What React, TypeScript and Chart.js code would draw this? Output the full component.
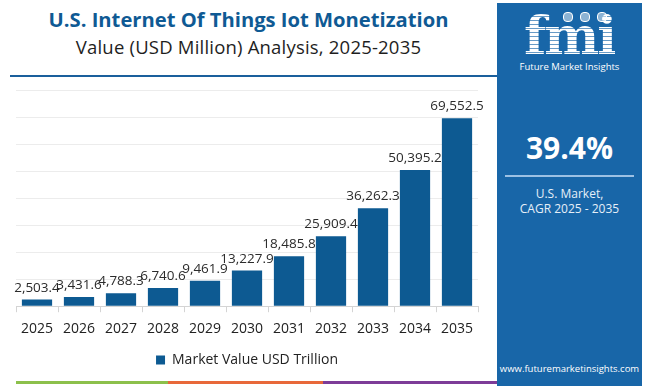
import React, { useEffect, useRef } from "react";
import { Chart, registerables } from "chart.js";

Chart.register(...registerables);

const years = ["2025", "2026", "2027", "2028", "2029", "2030", "2031", "2032", "2033", "2034", "2035"];
const marketValues = [2503.4, 3431.6, 4788.3, 6740.6, 9461.9, 13227.9, 18485.8, 25909.4, 36262.3, 50395.2, 69552.5];
const seriesLabel = "Market Value USD Trillion";
const yMax = 80000;
const yStep = 10000;

const titleLine1 = "U.S. Internet Of Things Iot Monetization";
const titleLine2 = "Value (USD Million) Analysis, 2025-2035";
const cagrValue = "39.4%";
const cagrLine1 = "U.S. Market,";
const cagrLine2 = "CAGR 2025 - 2035";
const siteUrl = "www.futuremarketinsights.com";

const FONT = "'Open Sans', 'DejaVu Sans', sans-serif";
const BAR_COLOR = "#0d5a92";
const PANEL_COLOR = "#1866a8";

const valueLabelPlugin = {
  id: "valueLabels",
  afterDatasetsDraw(chart: any) {
    const ctx = chart.ctx;
    const meta = chart.getDatasetMeta(0);
    const data = chart.data.datasets[0].data as number[];
    ctx.save();
    ctx.font = `13.5px ${FONT}`;
    ctx.fillStyle = "#2b2b2b";
    ctx.textAlign = "center";
    ctx.textBaseline = "bottom";
    meta.data.forEach((bar: any, i: number) => {
      const txt = data[i].toLocaleString("en-US", { minimumFractionDigits: 1, maximumFractionDigits: 1 });
      ctx.fillText(txt, bar.x, bar.y - 5);
    });
    ctx.restore();
  },
};

function BarChart() {
  const ref = useRef<HTMLCanvasElement | null>(null);
  useEffect(() => {
    if (!ref.current) return;
    const chart = new Chart(ref.current, {
      type: "bar",
      data: {
        labels: years,
        datasets: [
          {
            label: seriesLabel,
            data: marketValues,
            backgroundColor: BAR_COLOR,
            borderWidth: 0,
            categoryPercentage: 0.72,
            barPercentage: 1,
          },
        ],
      },
      options: {
        animation: false,
        responsive: true,
        maintainAspectRatio: false,
        layout: { padding: { left: 16, right: 19, top: 10, bottom: 1 } },
        plugins: {
          tooltip: { enabled: false },
          legend: {
            display: true,
            position: "bottom",
            labels: {
              boxWidth: 9,
              boxHeight: 9,
              padding: 8,
              color: "#222",
              font: { size: 14, family: FONT },
            },
          },
        },
        scales: {
          x: {
            offset: true,
            grid: {
              display: true,
              drawOnChartArea: false,
              drawTicks: true,
              tickLength: 6,
              color: "#d4d4d4",
              offset: true,
            },
            border: { display: true, color: "#d4d4d4" },
            ticks: { color: "#222", padding: 8, font: { size: 14, family: FONT } },
          },
          y: {
            min: 0,
            max: yMax,
            ticks: { display: false, stepSize: yStep },
            grid: { color: "#ececec", drawTicks: false },
            border: { display: false },
          },
        },
      },
      plugins: [valueLabelPlugin],
    });
    return () => chart.destroy();
  }, []);
  return <canvas ref={ref} />;
}

export default function App() {
  return (
    <div
      style={{
        position: "absolute",
        left: 0,
        top: 0,
        width: 650,
        height: 386,
        background: "#fff",
        overflow: "hidden",
        fontFamily: FONT,
      }}
    >
      <div
        style={{
          position: "absolute",
          left: 0,
          top: 6,
          width: 497,
          textAlign: "center",
          color: "#0f5a94",
          fontWeight: 700,
          fontSize: 20.2,
          lineHeight: "26px",
        }}
      >
        {titleLine1}
      </div>
      <div
        style={{
          position: "absolute",
          left: 0,
          top: 35,
          width: 497,
          textAlign: "center",
          color: "#1e1e1e",
          fontSize: 18.5,
          letterSpacing: 0.2,
          lineHeight: "24px",
        }}
      >
        {titleLine2}
      </div>
      <div style={{ position: "absolute", left: 10, top: 75, width: 488, height: 2, background: "#1a5f9c" }} />
      <div style={{ position: "absolute", left: 0, top: 80, width: 497, height: 298 }}>
        <BarChart />
      </div>
      <div style={{ position: "absolute", top: 381, left: 16, width: 152, height: 3, background: "#8cc04b" }} />
      <div style={{ position: "absolute", top: 381, left: 168, width: 155, height: 3, background: "#e8683a" }} />
      <div style={{ position: "absolute", top: 381, left: 323, width: 174, height: 3, background: "#7d3c98" }} />
      <div
        style={{
          position: "absolute",
          left: 497,
          top: 3,
          width: 145,
          height: 383,
          background: PANEL_COLOR,
          color: "#fff",
        }}
      >
        <div style={{ position: "absolute", left: 0, top: 8, width: 145, textAlign: "center" }}>
          <span
            style={{
              fontFamily: "'DejaVu Serif', serif",
              fontWeight: 700,
              fontSize: 52,
              lineHeight: "50px",
              letterSpacing: -2,
              backgroundImage: "repeating-linear-gradient(to bottom, #fff 0px, #fff 3px, rgba(255,255,255,0.35) 3px, rgba(255,255,255,0.35) 4px)",
              WebkitBackgroundClip: "text",
              backgroundClip: "text",
              color: "transparent",
            }}
          >
            fmi
          </span>
        </div>
        {[0, 1, 2].map((i) => (
          <div
            key={i}
            style={{
              position: "absolute",
              left: 66 + i * 17,
              top: 9,
              width: 8,
              height: 8,
              borderRadius: 4,
              border: "1.5px solid #fff",
              background: "rgba(255,255,255,0.5)",
            }}
          />
        ))}
        <div style={{ position: "absolute", left: 0, top: 57, width: 145, textAlign: "center", fontSize: 9.5, lineHeight: "13px" }}>
          Future Market Insights
        </div>
        <div
          style={{
            position: "absolute",
            left: 0,
            top: 127,
            width: 145,
            textAlign: "center",
            fontSize: 30,
            fontWeight: 700,
            lineHeight: "36px",
          }}
        >
          {cagrValue}
        </div>
        <div style={{ position: "absolute", left: 8, top: 172, width: 129, height: 2, background: "#9cc1e4" }} />
        <div
          style={{
            position: "absolute",
            left: 0,
            top: 183,
            width: 145,
            textAlign: "center",
            fontSize: 12,
            lineHeight: "15px",
            color: "#e6eff8",
          }}
        >
          {cagrLine1}
          <br />
          {cagrLine2}
        </div>
        <div
          style={{
            position: "absolute",
            left: 0,
            top: 359,
            width: 145,
            textAlign: "center",
            fontSize: 9.5,
            lineHeight: "13px",
          }}
        >
          {siteUrl}
        </div>
      </div>
    </div>
  );
}
